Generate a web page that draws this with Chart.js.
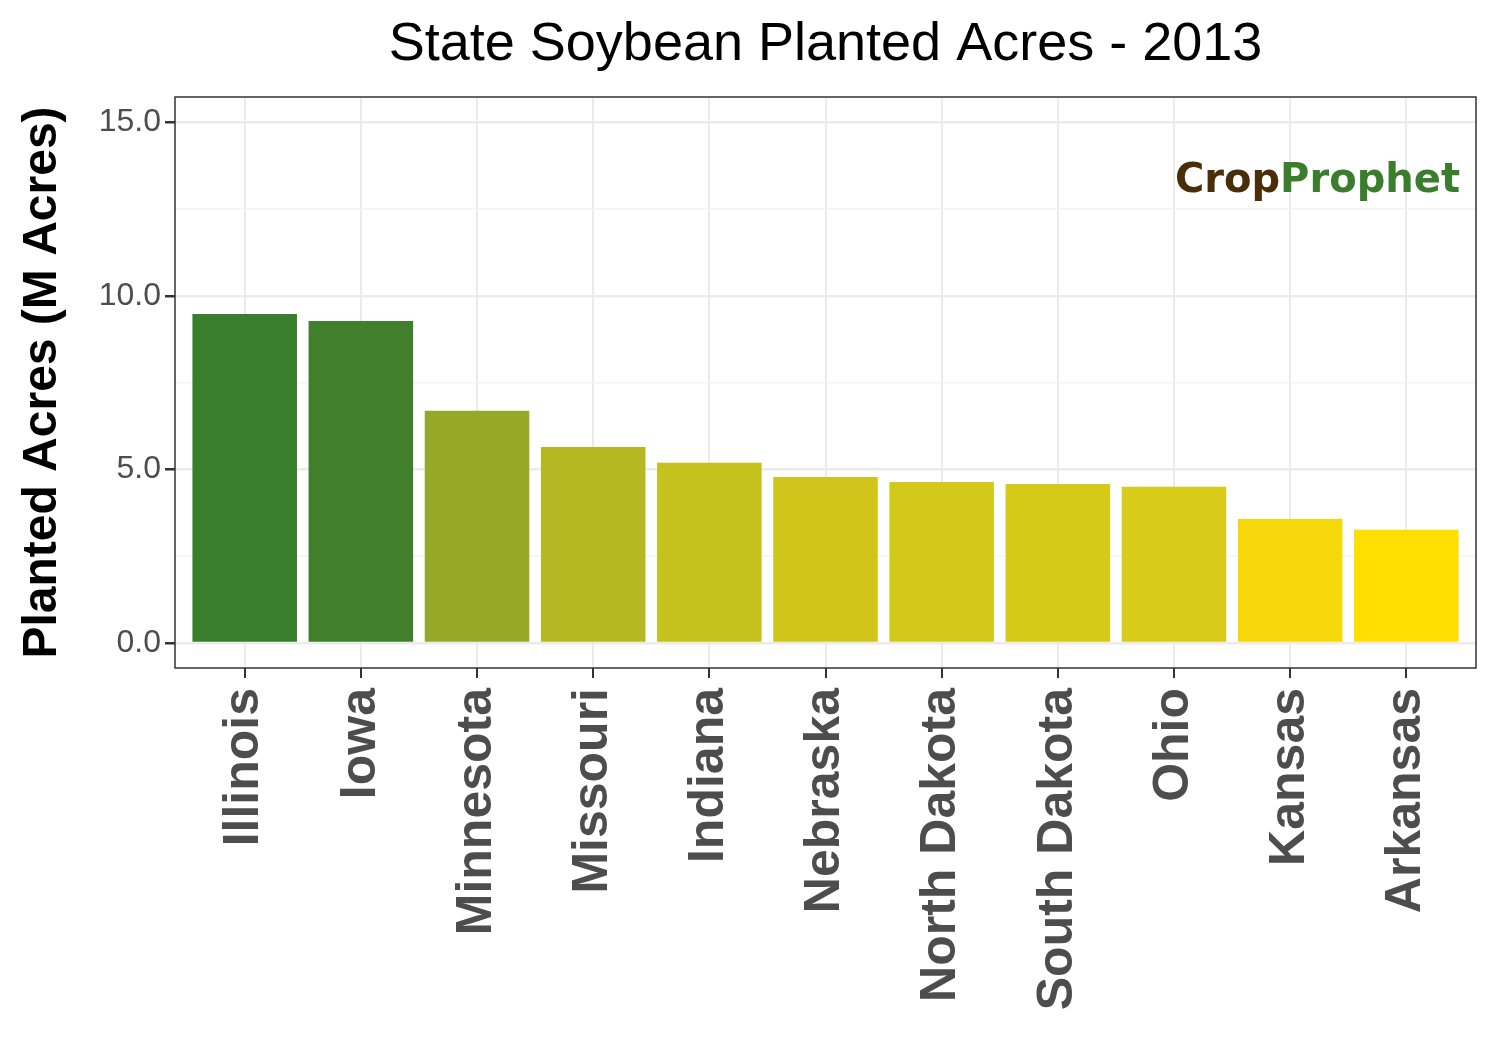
<!DOCTYPE html>
<html><head><meta charset="utf-8">
<script src="https://cdn.jsdelivr.net/npm/chart.js@4"></script>
<style>html,body{margin:0;padding:0;background:#fff}#w{width:1500px;height:1050px}</style>
</head><body><div id="w"><canvas id="c"></canvas></div>
<script>
const states=["Illinois","Iowa","Minnesota","Missouri","Indiana","Nebraska","North Dakota","South Dakota","Ohio","Kansas","Arkansas"];
const acres=[9.48,9.28,6.69,5.65,5.19,4.78,4.64,4.58,4.50,3.57,3.26];
const colors=["#3a7d2c","#417f2c","#95a828","#b5b822","#c5c21e","#d0c61b","#d3c91a","#d6ca19","#d8cb19","#f6d80a","#ffde00"];
const yTicks=[0,2.5,5,7.5,10,12.5,15];
const F="Liberation Sans, Arial, sans-serif";
const deco={id:'deco',
 afterDatasetsDraw(ch){const a=ch.chartArea,x=ch.ctx;x.save();
  x.strokeStyle="#333";x.lineWidth=1.5;x.strokeRect(a.left,a.top,a.right-a.left,a.bottom-a.top);
  x.fillStyle="#000";x.font="54px "+F;x.textAlign="center";x.textBaseline="middle";
  x.fillText("State Soybean Planted Acres - 2013",(a.left+a.right)/2,45);
  x.font="bold 40px DejaVu Sans, sans-serif";x.textAlign="right";
  const w2=x.measureText("Prophet").width;
  x.fillStyle="#3a7d2c";x.fillText("Prophet",1460,182);
  x.fillStyle="#4a2e0a";x.fillText("Crop",1460-w2,182);
  x.restore();}};
new Chart(document.getElementById('c'),{type:'bar',
 data:{datasets:[{data:acres.map((v,i)=>({x:i+1,y:v})),backgroundColor:colors,categoryPercentage:0.9,barPercentage:1}]},
 options:{responsive:true,maintainAspectRatio:false,animation:false,
  layout:{padding:{top:97,right:24,bottom:0,left:0}},
  plugins:{legend:{display:false},tooltip:{enabled:false}},
  scales:{
   x:{type:'linear',offset:false,min:0.4,max:11.6,afterFit(s){s.height=382;},
      afterBuildTicks(s){s.ticks=states.map((_,i)=>({value:i+1}));},
      grid:{offset:false,color:"#ebebeb",lineWidth:2,tickColor:"#333",tickLength:10},border:{display:false},
      ticks:{color:"#4d4d4d",font:{family:F,size:50,weight:"bold"},padding:10,maxRotation:90,minRotation:90,autoSkip:false,callback:v=>states[Math.round(v)-1]||""}},
   y:{min:-0.72,max:15.73,afterFit(s){s.width=175;},
      afterBuildTicks(s){s.ticks=yTicks.map(v=>({value:v}));},
      grid:{color:c=>c.tick&&c.tick.value%5===0?"#ebebeb":"#f4f4f4",lineWidth:c=>c.tick&&c.tick.value%5===0?2.5:1.5,
            tickColor:c=>c.tick&&c.tick.value%5===0?"#333":"rgba(0,0,0,0)",tickLength:10},
      border:{display:false},
      ticks:{color:"#4d4d4d",font:{family:F,size:32},padding:4,callback:v=>v%5===0?v.toFixed(1):""},
      title:{display:true,text:"Planted Acres (M Acres)",color:"#000",font:{family:F,size:48,weight:"bold"},padding:{top:14,bottom:4}}}
  }},plugins:[deco]});
</script></body></html>
